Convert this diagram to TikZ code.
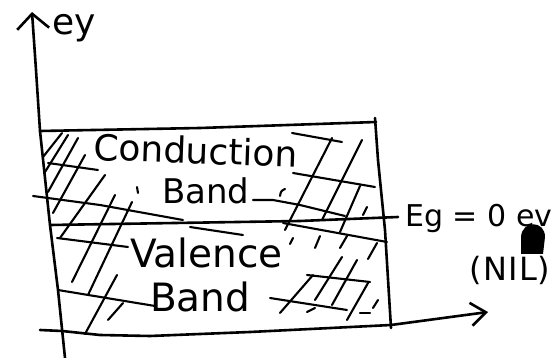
\documentclass[tikz,border=0pt]{standalone}
\usepackage{fontspec}
\setmainfont{DejaVu Sans}
\usetikzlibrary{arrows.meta}
\begin{document}
\begin{tikzpicture}[x=1pt,y=-1pt,
  ink/.style={line width=2.6pt, line cap=round, line join=round},
  hatch/.style={line width=2.1pt, line cap=round, line join=round},
  txt/.style={inner sep=0pt, anchor=base west},
  vbarb/.style={-{Straight Barb[length=15pt,width=32pt]}},
  hbarb/.style={-{Straight Barb[length=15pt,width=23pt]}}]
\useasboundingbox (0,0) rectangle (555,358);

% axes
\coordinate (yfoot) at (65,358);
\coordinate (ytop) at (32,12);
\coordinate (xstart) at (40,330);
\coordinate (xend) at (488,312);
\draw[ink, vbarb] (yfoot) -- (58,290) -- (50,225) -- (40,131) -- (36,70) -- (ytop);
\draw[ink, hbarb] (xstart) -- (62,331) -- (100,335) -- (150,336) -- (250,332) -- (391,325) -- (xend);

% band box: top and right side
\draw[ink] (40,131) -- (200,128) -- (376,122);
\draw[ink] (375,118) -- (378,160) -- (385,230) -- (391,328);

% line between the two bands, running out to the gap label
\coordinate (gapend) at (398,217);
\draw[ink] (50,225) -- (175,223) -- (300,221) -- (gapend);

% hatching, left part
\begin{scope}[hatch]
\draw (43,157) -- (62,133);
\draw (45,172) -- (68,135);
\draw (48,192) -- (78,138);
\draw (53,213) -- (85,155);
\draw (60,238) -- (105,175);
\draw (72,282) -- (115,195);
\draw (88,295) -- (132,202);
\draw (85,334) -- (117,275);
\draw (108,320) -- (123,303);
\draw (137,187) -- (138,193);
\draw (48,163) -- (98,170);
\draw (33,196) -- (100,205) -- (183,220);
\draw (57,238) -- (128,247);
\draw (190,227) -- (243,235);
\draw (58,290) -- (155,306);
\end{scope}

% hatching, right part
\begin{scope}[hatch]
\draw (292,133) -- (342,142);
\draw (293,173) -- (375,187);
\draw (253,200) -- (273,200) -- (300,205) -- (345,216);
\draw (280,196) .. controls (281,191) .. (285,189);
\draw (283,223) -- (387,242);
\draw (307,275) -- (370,282);
\draw (270,298) -- (347,310);
\draw (360,313) -- (370,313);
\draw (332,138) -- (285,230);
\draw (362,140) -- (322,220);
\draw (360,186) -- (340,232);
\draw (367,207) -- (363,215);
\draw (293,238) -- (290,244);
\draw (320,236) -- (315,248);
\draw (347,236) -- (340,248);
\draw (377,243) -- (368,259);
\draw (342,257) -- (315,300);
\draw (313,275) -- (280,313);
\draw (357,260) -- (332,305);
\draw (368,283) -- (347,320);
\draw (378,300) -- (373,308);
\draw (307,312) -- (315,308);
\end{scope}

% labels
\node[txt, font=\fontsize{36}{36}\selectfont] (ey) at (52,35) {ey};
\node[txt, font=\fontsize{36}{36}\selectfont, rotate=-2] (cond) at (93,160) {Conduction};
\node[txt, font=\fontsize{34}{34}\selectfont] (cband) at (162,204) {Band};
\node[txt, font=\fontsize{39}{39}\selectfont] (val) at (130,268) {Valence};
\node[txt, font=\fontsize{39}{39}\selectfont] (vband) at (150,312) {Band};
\node[txt, font=\fontsize{30}{30}\selectfont] (eg) at (405,227) {Eg = 0 ev};
\node[txt, font=\fontsize{32}{32}\selectfont] (nil) at (469,281) {(\kern2pt N\kern1pt I\kern1pt L\kern1pt)};

% ink blot over the label
\fill (521,254) -- (521,237) .. controls (522,220) and (545,220) .. (545,237) -- (543,254) -- cycle;
\end{tikzpicture}
\end{document}
